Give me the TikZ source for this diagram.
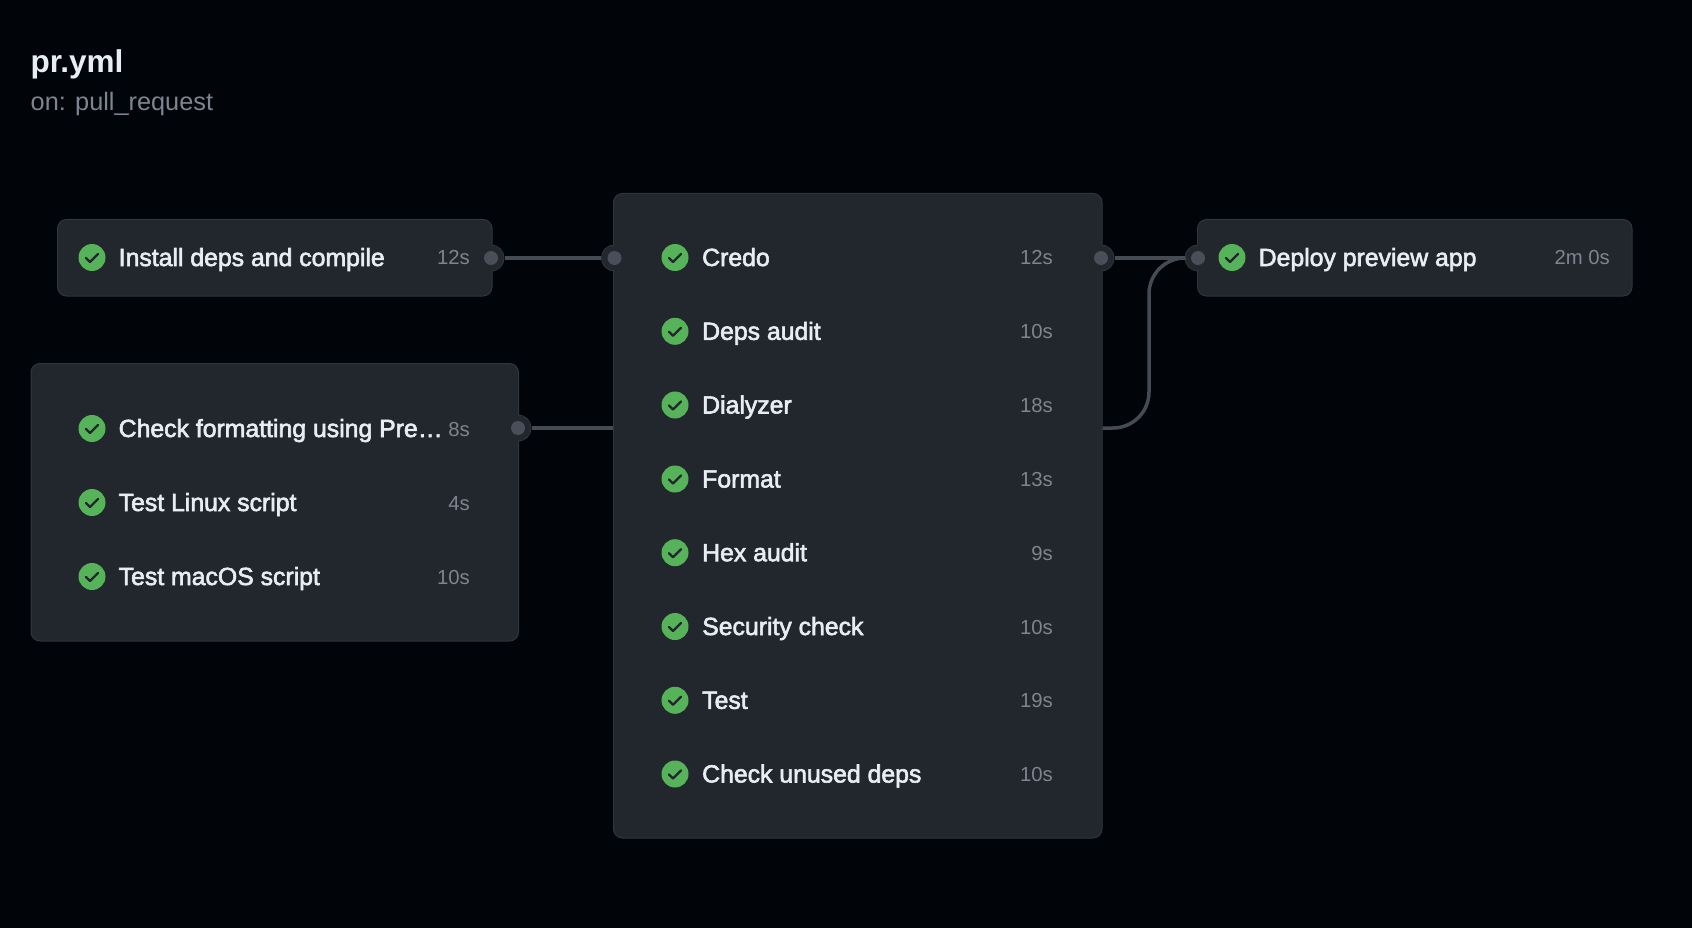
\documentclass[tikz,border=0pt]{standalone}
\usepackage{fontspec}
\setmainfont{Liberation Sans}
\newfontfamily\medf{Liberation Sans}[FakeBold=2.4]
\newfontfamily\titlef{Liberation Sans Bold}
\definecolor{pagebg}{HTML}{010409}
\definecolor{boxbg}{HTML}{22262D}
\definecolor{boxline}{HTML}{30363D}
\definecolor{txt}{HTML}{E6EDF3}
\definecolor{muted}{HTML}{7D8590}
\definecolor{okgreen}{HTML}{57B35A}
\definecolor{wire}{HTML}{444B53}
\definecolor{dot}{HTML}{484F58}
\tikzset{
  jobbox/.style={draw=boxline,fill=boxbg,line width=1pt,rounded corners=9pt,inner sep=0pt,anchor=north west},
  halo/.style={circle,draw=boxline,fill=boxbg,line width=1pt,minimum size=26pt,inner sep=0pt},
  portdisc/.style={circle,fill=boxbg,minimum size=25pt,inner sep=0pt},
  portdot/.style={circle,fill=dot,minimum size=14pt,inner sep=0pt},
  wireline/.style={draw=wire,line width=3.5pt},
  okicon/.style={circle,fill=okgreen,minimum size=27pt,inner sep=0pt},
  tick/.style={draw=boxbg,line width=2.3pt,line cap=round,line join=round},
  jobname/.style={anchor=base west,inner sep=0pt,text=txt,font=\medf\fontsize{24.8}{28}\selectfont},
  jobtime/.style={anchor=base east,inner sep=0pt,text=muted,font=\fontsize{20.3}{24}\selectfont},
}
\newcommand{\jobrow}[7]{% id, icon x, text x, time x, y, name, time
  \node[okicon] (#1i) at (#2,#5) {};
  \draw[tick] ([shift={(-6,0.5)}]#1i.center) -- ([shift={(-2,4.5)}]#1i.center) -- ([shift={(6,-3.5)}]#1i.center);
  \node[jobname] (#1n) at (#3,#5+8.5) {#6};
  \node[jobtime] (#1t) at (#4,#5+7.5) {#7};
}
\begin{document}
\begin{tikzpicture}[x=1pt,y=-1pt]
\useasboundingbox (0,0) rectangle (1692,928);
\fill[pagebg] (0,0) rectangle (1692,928);
\node[anchor=base west,inner sep=0pt,text=txt,font=\titlef\fontsize{31.5}{36}\selectfont] (title) at (30.5,73) {pr.yml};
\node[anchor=base west,inner sep=0pt,text=muted,font=\fontsize{25.3}{28}\selectfont] (sub) at (30.5,110.5) {on: pull\_request};
% halos behind boxes
\node[halo] (h1) at (491,258) {};
\node[halo] (h2) at (614.5,258) {};
\node[halo] (h3) at (518,428) {};
\node[halo] (h4) at (1101,258) {};
\node[halo] (h5) at (1198,258) {};
% boxes
\node[jobbox,minimum width=434.5pt,minimum height=76.5pt] (install) at (57,219) {};
\node[jobbox,minimum width=487.5pt,minimum height=277.5pt] (checks) at (30.5,363) {};
\node[jobbox,minimum width=488.5pt,minimum height=644.5pt] (main) at (613,193) {};
\node[jobbox,minimum width=434.5pt,minimum height=76.5pt] (deploy) at (1197,219) {};
% connectors
\coordinate (c3) at (main.west |- h3);
\coordinate (c4) at (main.east |- h3);
\draw[wireline] (h1) -- (h2);
\draw[wireline] (h3) -- (c3);
\draw[wireline] (h4) -- (h5);
\draw[wireline,rounded corners=36pt] (c4) -- (1149,428) -- (1149,258) -- (h5.center);
\node[portdisc] (f1) at (h1) {};
\node[portdisc] (f2) at (h2) {};
\node[portdisc] (f3) at (h3) {};
\node[portdisc] (f4) at (h4) {};
\node[portdisc] (f5) at (h5) {};
\node[portdot] (d1) at (h1) {};
\node[portdot] (d2) at (h2) {};
\node[portdot] (d3) at (h3) {};
\node[portdot] (d4) at (h4) {};
\node[portdot] (d5) at (h5) {};
% rows
\jobrow{a}{92}{118.5}{470}{257.5}{Install deps and compile}{12s}
\jobrow{b}{92}{118.5}{470}{428.5}{Check formatting using Pre…}{8s}
\jobrow{c}{92}{118.5}{470}{502.5}{Test Linux script}{4s}
\jobrow{d}{92}{118.5}{470}{576.5}{Test macOS script}{10s}
\jobrow{e}{675}{702}{1053}{257.5}{Credo}{12s}
\jobrow{f}{675}{702}{1053}{331.3}{Deps audit}{10s}
\jobrow{g}{675}{702}{1053}{405}{Dialyzer}{18s}
\jobrow{h}{675}{702}{1053}{479}{Format}{13s}
\jobrow{i}{675}{702}{1053}{552.7}{Hex audit}{9s}
\jobrow{j}{675}{702}{1053}{626.5}{Security check}{10s}
\jobrow{k}{675}{702}{1053}{700.3}{Test}{19s}
\jobrow{l}{675}{702}{1053}{774}{Check unused deps}{10s}
\jobrow{m}{1232}{1258.5}{1610}{257.5}{Deploy preview app}{2m 0s}
\end{tikzpicture}
\end{document}
